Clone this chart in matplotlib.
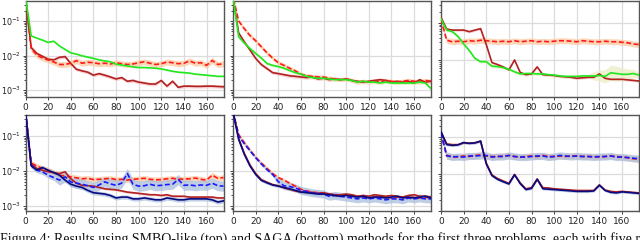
import matplotlib
matplotlib.use("Agg")
import matplotlib.pyplot as plt
import numpy as np

# ─── Data (x = 0..175, step 5) ──────────────────────────
ITERS = list(range(0, 180, 5))

# top-left
green_a = [0.5, 0.037, 0.032, 0.028, 0.024, 0.026, 0.019, 0.015, 0.012, 0.011, 0.0098, 0.009,
           0.0083, 0.0075, 0.007, 0.0066, 0.0056, 0.0053, 0.005, 0.0047, 0.0045, 0.0045, 0.0044, 0.0043,
           0.0041, 0.0038, 0.0035, 0.0033, 0.0032, 0.0031, 0.0029, 0.0028, 0.0027, 0.0026, 0.0025, 0.0025]
darkred_a = [0.5, 0.017, 0.0115, 0.0095, 0.0078, 0.0075, 0.0089, 0.0093, 0.0059, 0.004, 0.0036, 0.0033,
             0.0027, 0.003, 0.0027, 0.0024, 0.0021, 0.0023, 0.0018, 0.0019, 0.0017, 0.0016, 0.0015, 0.0015,
             0.0019, 0.0013, 0.0018, 0.0012, 0.0013, 0.0013, 0.00128, 0.00128, 0.0013, 0.0013, 0.00127, 0.00125]
reddash_a = [0.5, 0.016, 0.0103, 0.0085, 0.0074, 0.0065, 0.0055, 0.0055, 0.006, 0.0071, 0.006, 0.0064,
             0.0062, 0.0058, 0.006, 0.0057, 0.0062, 0.0058, 0.0055, 0.0057, 0.0062, 0.0066, 0.006, 0.0055,
             0.0058, 0.0065, 0.0062, 0.0058, 0.006, 0.007, 0.006, 0.0062, 0.0052, 0.0072, 0.0055, 0.0058]

# top-middle
green_b = [0.5, 0.035, 0.023, 0.016, 0.0115, 0.0085, 0.0059, 0.0052, 0.0048, 0.0043, 0.0037, 0.0032,
           0.0029, 0.0025, 0.0023, 0.0022, 0.0022, 0.0021, 0.002, 0.002, 0.002, 0.0019, 0.0017, 0.0018,
           0.0017, 0.0017, 0.0016, 0.0017, 0.0016, 0.0016, 0.0016, 0.0016, 0.0016, 0.0017, 0.0016, 0.0011]
darkred_b = [0.5, 0.045, 0.025, 0.0145, 0.0083, 0.0055, 0.0042, 0.0032, 0.003, 0.0028, 0.0026, 0.0025,
             0.0024, 0.0023, 0.0024, 0.0021, 0.0022, 0.002, 0.0021, 0.002, 0.0021, 0.0019, 0.0018, 0.0017,
             0.0018, 0.0019, 0.002, 0.0019, 0.0017, 0.0018, 0.0017, 0.0018, 0.0016, 0.002, 0.0017, 0.0018]
reddash_b = [0.5, 0.1, 0.06, 0.038, 0.027, 0.018, 0.012, 0.0085, 0.0062, 0.0052, 0.0043, 0.0036,
             0.0029, 0.0026, 0.0025, 0.0024, 0.0024, 0.0022, 0.0021, 0.002, 0.0021, 0.0019, 0.0017, 0.0018,
             0.0017, 0.0018, 0.0017, 0.0019, 0.0018, 0.0017, 0.0018, 0.0019, 0.0018, 0.0017, 0.0019, 0.0018]

# top-right
green_c = [0.13, 0.064, 0.058, 0.043, 0.027, 0.018, 0.011, 0.009, 0.009, 0.0068, 0.0066, 0.0062,
           0.0056, 0.0048, 0.0042, 0.0043, 0.0043, 0.0042, 0.0042, 0.004, 0.0039, 0.0037, 0.0036, 0.0036,
           0.0036, 0.0037, 0.0037, 0.0037, 0.0038, 0.0036, 0.0045, 0.0043, 0.0041, 0.0041, 0.0043, 0.0039]
darkred_c = [0.14, 0.068, 0.064, 0.064, 0.064, 0.058, 0.064, 0.07, 0.026, 0.0085, 0.0075, 0.0065,
             0.0054, 0.01, 0.0046, 0.004, 0.0042, 0.0065, 0.004, 0.0039, 0.0038, 0.0036, 0.0035, 0.0034,
             0.0032, 0.0033, 0.0034, 0.0034, 0.0042, 0.0032, 0.003, 0.003, 0.003, 0.0029, 0.0028, 0.0027]
reddash_c = [0.125, 0.034, 0.031, 0.032, 0.031, 0.033, 0.032, 0.034, 0.033, 0.032, 0.031, 0.032,
             0.031, 0.033, 0.031, 0.032, 0.033, 0.031, 0.032, 0.031, 0.032, 0.033, 0.033, 0.032,
             0.031, 0.033, 0.032, 0.031, 0.031, 0.032, 0.031, 0.031, 0.03, 0.029, 0.027, 0.026]

# bottom-left
darkred_d = [0.5, 0.016, 0.0118, 0.0105, 0.0095, 0.009, 0.0085, 0.0095, 0.006, 0.0045, 0.0039, 0.0038,
             0.0037, 0.0034, 0.0031, 0.003, 0.0029, 0.0027, 0.0025, 0.0024, 0.0023, 0.0022, 0.0021, 0.0021,
             0.002, 0.0021, 0.0019, 0.0019, 0.0019, 0.0018, 0.0018, 0.0018, 0.0018, 0.0018, 0.0017, 0.0017]
reddash_d = [0.5, 0.017, 0.0138, 0.012, 0.0106, 0.009, 0.0076, 0.0072, 0.0068, 0.0064, 0.006, 0.0062,
             0.0057, 0.0058, 0.006, 0.0062, 0.0057, 0.0058, 0.0055, 0.0058, 0.006, 0.0062, 0.0058, 0.0056,
             0.0057, 0.006, 0.0062, 0.0058, 0.0059, 0.006, 0.0063, 0.0058, 0.0055, 0.0076, 0.0062, 0.0065]
navy_d = [0.5, 0.014, 0.0106, 0.0126, 0.0105, 0.009, 0.0076, 0.0055, 0.0042, 0.0037, 0.0034, 0.0028,
          0.0024, 0.0023, 0.0022, 0.002, 0.0017, 0.0018, 0.0018, 0.0016, 0.0016, 0.0017, 0.0016, 0.0015,
          0.0015, 0.0017, 0.0016, 0.0015, 0.0015, 0.0016, 0.0016, 0.0016, 0.0016, 0.0015, 0.0013, 0.0014]
bluedash_d = [0.5, 0.015, 0.0106, 0.0095, 0.0076, 0.0065, 0.0055, 0.0068, 0.0049, 0.0045, 0.0042, 0.0038,
              0.0034, 0.004, 0.0049, 0.0043, 0.0039, 0.0045, 0.0085, 0.0042, 0.0037, 0.0038, 0.0042, 0.0038,
              0.0039, 0.0041, 0.0042, 0.0057, 0.0039, 0.004, 0.0038, 0.004, 0.0039, 0.0045, 0.0038, 0.0037]

# bottom-middle
darkred_e = [0.5, 0.085, 0.032, 0.015, 0.0085, 0.0057, 0.0048, 0.0041, 0.0038, 0.0033, 0.003, 0.0027,
             0.0025, 0.0025, 0.0024, 0.0023, 0.0024, 0.0022, 0.0021, 0.0021, 0.0022, 0.0021, 0.0019, 0.002,
             0.0019, 0.0021, 0.002, 0.0019, 0.002, 0.0019, 0.0018, 0.002, 0.0021, 0.0019, 0.0019, 0.0018]
reddash_e = [0.5, 0.11, 0.065, 0.04, 0.025, 0.017, 0.012, 0.0085, 0.0065, 0.0055, 0.0045, 0.0037,
             0.003, 0.0027, 0.0025, 0.0024, 0.0023, 0.0022, 0.0021, 0.002, 0.0021, 0.002, 0.0019, 0.0019,
             0.0018, 0.0018, 0.0019, 0.0018, 0.0017, 0.0018, 0.0018, 0.0017, 0.0018, 0.0017, 0.0018, 0.0017]
navy_e = [0.5, 0.08, 0.03, 0.014, 0.008, 0.0054, 0.0046, 0.004, 0.0037, 0.0034, 0.0031, 0.0028,
          0.0025, 0.0024, 0.0023, 0.0022, 0.0022, 0.0021, 0.002, 0.0019, 0.002, 0.0019, 0.0018, 0.0019,
          0.0017, 0.0018, 0.0018, 0.0017, 0.0018, 0.0019, 0.0017, 0.0018, 0.0017, 0.0018, 0.0019, 0.0017]
bluedash_e = [0.5, 0.1, 0.06, 0.038, 0.024, 0.016, 0.011, 0.008, 0.005, 0.0038, 0.0036, 0.0033,
              0.0028, 0.0026, 0.0024, 0.0023, 0.0022, 0.0019, 0.002, 0.0019, 0.0018, 0.0017, 0.0016, 0.0017,
              0.0016, 0.0017, 0.0016, 0.0015, 0.0016, 0.0016, 0.0015, 0.0017, 0.0016, 0.0017, 0.0016, 0.0016]

# bottom-right
darkred_f = [0.14, 0.066, 0.063, 0.063, 0.07, 0.069, 0.071, 0.077, 0.02, 0.0095, 0.0076, 0.0065,
             0.0056, 0.0098, 0.0058, 0.004, 0.0043, 0.0074, 0.0043, 0.0042, 0.004, 0.0039, 0.0038, 0.0037,
             0.0036, 0.0036, 0.0036, 0.0036, 0.0051, 0.0037, 0.0034, 0.0033, 0.0034, 0.0033, 0.0032, 0.0031]
reddash_f = [0.13, 0.031, 0.03, 0.029, 0.031, 0.03, 0.032, 0.033, 0.031, 0.03, 0.03, 0.031,
             0.032, 0.03, 0.029, 0.03, 0.031, 0.03, 0.032, 0.03, 0.03, 0.031, 0.03, 0.031,
             0.031, 0.03, 0.03, 0.03, 0.029, 0.03, 0.031, 0.03, 0.029, 0.028, 0.026, 0.026]
navy_f = [0.14, 0.063, 0.06, 0.062, 0.072, 0.068, 0.07, 0.079, 0.019, 0.0091, 0.0072, 0.0062,
          0.0054, 0.0096, 0.0055, 0.0038, 0.0041, 0.0072, 0.004, 0.0039, 0.0038, 0.0037, 0.0036, 0.0035,
          0.0034, 0.0034, 0.0034, 0.0035, 0.005, 0.0036, 0.0032, 0.0031, 0.0033, 0.0032, 0.0031, 0.003]
bluedash_f = [0.13, 0.032, 0.029, 0.03, 0.029, 0.031, 0.031, 0.032, 0.032, 0.029, 0.03, 0.03,
              0.032, 0.03, 0.029, 0.029, 0.03, 0.031, 0.031, 0.029, 0.03, 0.032, 0.031, 0.03,
              0.031, 0.03, 0.03, 0.029, 0.03, 0.03, 0.031, 0.029, 0.029, 0.028, 0.027, 0.026]

YTICK_LABELS = ["$10^{-1}$", "$10^{-2}$", "$10^{-3}$"]
CAPTION = ("Figure 4: Results using SMBO-like (top) and SAGA (bottom) methods for the "
           "first three problems, each with five runs")

# ─── Style ──────────────────────────────────────────────
C_GREEN = "#1ee81e"
C_DARKRED = "#b22222"
C_RED = "#ff1a1a"
C_NAVY = "#0a0a80"
C_BLUE = "#1a1aff"
B_ORANGE = "#fdc9a0"
B_PINK = "#f6c4c4"
B_KHAKI = "#ecebc4"
B_BLUE = "#a9bedd"
GRID = "#dcdcdc"
SPINE = "#555555"


def draw(ax, y, color, ls, band, spread):
    y = np.asarray(y)
    f = np.asarray(spread) if np.ndim(spread) else np.full(len(y), spread)
    ax.fill_between(ITERS, y / f, y * f, color=band, alpha=0.75, lw=0, zorder=2)
    ax.plot(ITERS, y, color=color, ls=ls, lw=1.2, zorder=3,
            dashes=(3, 1.5) if ls == "--" else (None, None))


fig = plt.figure(figsize=(6.4, 2.4), dpi=100)
W, H = 198 / 640, 96 / 240
lefts = [25.5 / 640, 233 / 640, 441 / 640]
bottoms = [1 - 97 / 240, 1 - 211 / 240]
ylims = [[(6.3e-4, 0.38), (6.3e-4, 0.38), (1.35e-3, 0.39)],
         [(7.2e-4, 0.4), (7.2e-4, 0.4), (1.6e-3, 0.4)]]

axes = [[fig.add_axes([l, b, W, H]) for l in lefts] for b in bottoms]

green_spread_c = [1.1] * 27 + [1.3, 1.4, 1.5, 1.6, 1.6, 1.5, 1.4, 1.3, 1.2]
blue_spread_d = [1.2] * 6 + [1.4] * 30
blue_spread_e = [1.1] * 8 + [1.3] * 28

top = axes[0]
draw(top[0], darkred_a, C_DARKRED, "-", B_PINK, 1.12)
draw(top[0], reddash_a, C_RED, "--", B_ORANGE, 1.22)
draw(top[0], green_a, C_GREEN, "-", B_KHAKI, 1.05)

draw(top[1], darkred_b, C_DARKRED, "-", B_PINK, 1.12)
draw(top[1], reddash_b, C_RED, "--", B_ORANGE, 1.15)
draw(top[1], green_b, C_GREEN, "-", B_KHAKI, 1.1)

draw(top[2], reddash_c, C_RED, "--", B_ORANGE, 1.2)
draw(top[2], darkred_c, C_DARKRED, "-", B_PINK, 1.08)
draw(top[2], green_c, C_GREEN, "-", B_KHAKI, green_spread_c)

bot = axes[1]
draw(bot[0], reddash_d, C_RED, "--", B_ORANGE, 1.2)
draw(bot[0], darkred_d, C_DARKRED, "-", B_PINK, 1.08)
draw(bot[0], bluedash_d, C_BLUE, "--", B_BLUE, blue_spread_d)
draw(bot[0], navy_d, C_NAVY, "-", B_BLUE, 1.15)

draw(bot[1], reddash_e, C_RED, "--", B_ORANGE, 1.12)
draw(bot[1], darkred_e, C_DARKRED, "-", B_PINK, 1.08)
draw(bot[1], bluedash_e, C_BLUE, "--", B_BLUE, blue_spread_e)
draw(bot[1], navy_e, C_NAVY, "-", B_BLUE, 1.1)

draw(bot[2], reddash_f, C_RED, "--", B_ORANGE, 1.2)
draw(bot[2], darkred_f, C_DARKRED, "-", B_PINK, 1.06)
draw(bot[2], bluedash_f, C_BLUE, "--", B_BLUE, 1.25)
draw(bot[2], navy_f, C_NAVY, "-", B_BLUE, 1.08)

for r, row in enumerate(axes):
    for c, ax in enumerate(row):
        ax.set_yscale("log")
        ax.set_xlim(0, 175)
        ax.set_ylim(*ylims[r][c])
        ax.set_xticks(range(0, 161, 20))
        ax.set_yticks([1e-1, 1e-2, 1e-3])
        ax.grid(True, which="major", color=GRID, lw=0.9, zorder=0)
        ax.set_axisbelow(True)
        ax.tick_params(labelsize=6.5, length=2.5, width=0.6, colors="#222222", pad=1.5)
        ax.tick_params(which="minor", length=1.5, width=0.5)
        if c == 0:
            ax.set_yticklabels(YTICK_LABELS, fontsize=5.8)
            ax.tick_params(axis="y", pad=1)
        else:
            ax.tick_params(axis="y", which="both", labelleft=False)
        for s in ax.spines.values():
            s.set_color(SPINE)
            s.set_linewidth(1.0)

fig.text(0.0, 1 - 232 / 240, CAPTION, ha="left", va="top",
         fontsize=10, family="Liberation Serif", color="#111111")

fig.savefig("out.png", dpi=100, facecolor="white")
